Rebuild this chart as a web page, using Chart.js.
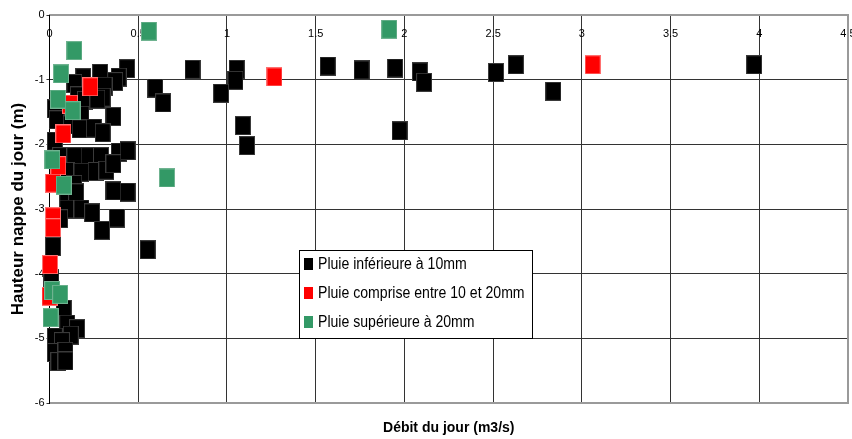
<!DOCTYPE html>
<html>
<head>
<meta charset="utf-8">
<script src="https://cdn.jsdelivr.net/npm/chart.js@4"></script>
<style>
  html, body { margin: 0; padding: 0; background: #ffffff; }
  canvas { display: block; }
</style>
</head>
<body>
<canvas id="chart" width="852" height="439"></canvas>
<script>
// Débit du jour (m3/s) against hauteur de nappe du jour (m), grouped by daily rainfall
const seriesNames = [
  'Pluie inférieure à 10mm',
  'Pluie comprise entre 10 et 20mm',
  'Pluie supérieure à 20mm'
];

// Pluie inférieure à 10mm
const lowRainDebit = [
  0.806, 1.055, 1.048, 0.967, 1.09, 1.113, 1.568, 1.759, 1.948, 2.087, 2.111, 1.973,
  2.516, 2.628, 2.839, 3.971, 0.596, 0.64, 0.553,
  0.437, 0.39, 0.37, 0.285, 0.31, 0.30, 0.19, 0.14, 0.16, 0.20, 0.27, 0.36, 0.18,
  0.03, 0.04, 0.12, 0.17, 0.25, 0.30, 0.03,
  0.06, 0.14, 0.22, 0.29, 0.39, 0.44, 0.10, 0.18, 0.26, 0.32, 0.36, 0.14, 0.10,
  0.15, 0.36, 0.44, 0.10, 0.18, 0.24, 0.06, 0.38, 0.296, 0.02, 0.01,
  0.08, 0.10, 0.155, 0.12, 0.03, 0.07, 0.03, 0.09, 0.05, 0.09
];
const lowRainNappe = [
  -0.84, -0.84, -1.01, -1.21, -1.71, -2.02, -0.79, -0.85, -0.82, -0.88, -1.04, -1.79,
  -0.89, -0.77, -1.18, -0.77, -1.13, -1.36, -3.63,
  -0.83, -0.96, -1.03, -0.90, -1.10, -1.27, -0.97, -1.06, -1.25, -1.32, -1.30, -1.57, -1.55,
  -1.45, -1.62, -1.70, -1.76, -1.75, -1.82, -1.95,
  -2.19, -2.19, -2.19, -2.19, -2.12, -2.10, -2.42, -2.43, -2.42, -2.40, -2.30, -2.62, -2.80,
  -2.75, -2.72, -2.74, -3.00, -3.00, -3.06, -3.15, -3.14, -3.33, -3.58, -4.08,
  -4.55, -4.78, -4.85, -4.95, -4.98, -5.05, -5.22, -5.20, -5.36, -5.35
];

// Pluie comprise entre 10 et 20mm
const midRainDebit = [1.268, 3.061, 0.23, 0.115, 0.078, 0.05, 0.02, 0.02, 0.02, 0.003, 0.0];
const midRainNappe = [-0.957, -0.77, -1.11, -1.38, -1.84, -2.33, -2.60, -3.12, -3.29, -3.86, -4.35];

// Pluie supérieure à 20mm
const highRainDebit = [0.56, 1.915, 0.14, 0.065, 0.048, 0.13, 0.016, 0.08, 0.662, 0.015, 0.06, 0.006];
const highRainNappe = [-0.25, -0.22, -0.55, -0.91, -1.30, -1.48, -2.24, -2.63, -2.52, -4.26, -4.32, -4.68];

const seriesColors = ['#000000', '#ff0000', '#339966'];
const seriesEdges = ['#3a3a3a', '#ff7070', '#6fb390'];

const xTicks = { min: 0, max: 4.5, step: 0.5 };
const yTicks = { min: -6, max: 0, step: 1 };

Chart.defaults.font.family = "'Liberation Sans', Arial, sans-serif";
Chart.defaults.color = '#000000';

function toPoints(xs, ys) {
  return xs.map((x, i) => ({ x: x, y: ys[i] }));
}

// Tall rectangular marker, as drawn by the spreadsheet
function makeMarker(fill, edge) {
  const c = document.createElement('canvas');
  c.width = 16;
  c.height = 19;
  const g = c.getContext('2d');
  g.fillStyle = edge;
  g.fillRect(0, 0, 16, 19);
  g.fillStyle = fill;
  g.fillRect(1, 1, 14, 17);
  return c;
}

const markers = seriesColors.map((c, i) => makeMarker(c, seriesEdges[i]));

// Boxed legend placed inside the plot area
const boxedLegend = {
  id: 'boxedLegend',
  afterDatasetsDraw(chart) {
    const ctx = chart.ctx;
    const bx = 299.5, by = 250.5, bw = 233, bh = 88;
    ctx.save();
    ctx.fillStyle = '#ffffff';
    ctx.fillRect(bx, by, bw, bh);
    ctx.strokeStyle = '#000000';
    ctx.lineWidth = 1;
    ctx.strokeRect(bx, by, bw, bh);
    const rows = [264, 293, 322];
    seriesNames.forEach((name, i) => {
      const cy = rows[i];
      ctx.fillStyle = seriesColors[i];
      ctx.fillRect(304, cy - 6, 9, 12);
      ctx.save();
      ctx.translate(318, cy);
      ctx.scale(0.88, 1);
      ctx.fillStyle = '#000000';
      ctx.font = "16px 'Liberation Sans', Arial, sans-serif";
      ctx.textBaseline = 'middle';
      ctx.textAlign = 'left';
      ctx.fillText(name, 0, 1);
      ctx.restore();
    });
    ctx.restore();
  }
};

const gridColor = '#333333';
const frameColor = '#9a9a9a';

function noPadding(s) {
  s.paddingLeft = 0;
  s.paddingRight = 0;
}

new Chart(document.getElementById('chart'), {
  type: 'scatter',
  data: {
    datasets: [
      { label: seriesNames[0], data: toPoints(lowRainDebit, lowRainNappe), pointStyle: markers[0], pointRadius: 9, order: 3, clip: false },
      { label: seriesNames[1], data: toPoints(midRainDebit, midRainNappe), pointStyle: markers[1], pointRadius: 9, order: 2, clip: false },
      { label: seriesNames[2], data: toPoints(highRainDebit, highRainNappe), pointStyle: markers[2], pointRadius: 9, order: 1, clip: false }
    ]
  },
  options: {
    responsive: false,
    animation: false,
    events: [],
    layout: { padding: 0, autoPadding: false },
    plugins: {
      legend: { display: false },
      tooltip: { enabled: false }
    },
    scales: {
      x: {
        type: 'linear',
        position: 'top',
        min: xTicks.min,
        max: xTicks.max,
        ticks: {
          stepSize: xTicks.step,
          mirror: true,
          padding: 12,
          maxRotation: 0,
          autoSkip: false,
          font: { size: 11 },
          color: '#000000',
          callback: (v) => String(Math.round(v * 10) / 10)
        },
        grid: {
          drawTicks: false,
          lineWidth: 1,
          color: (c) => (c.tick && c.tick.value === xTicks.max) ? 'rgba(0,0,0,0)' : gridColor
        },
        border: { color: frameColor, width: 2 },
        afterFit(s) { s.height = 15; noPadding(s); }
      },
      xTitle: {
        type: 'linear',
        position: 'bottom',
        min: xTicks.min,
        max: xTicks.max,
        ticks: { display: false },
        grid: { display: false },
        border: { color: frameColor, width: 2 },
        title: {
          display: true,
          text: 'Débit du jour (m3/s)',
          color: '#000000',
          font: { size: 14, weight: 'bold' },
          padding: { top: 0, bottom: 2 }
        },
        afterFit(s) { s.height = 36; noPadding(s); }
      },
      y: {
        type: 'linear',
        position: 'left',
        min: yTicks.min,
        max: yTicks.max,
        ticks: {
          stepSize: yTicks.step,
          padding: 2,
          font: { size: 11 },
          color: '#000000'
        },
        grid: {
          tickLength: 3,
          lineWidth: 1,
          tickColor: gridColor,
          color: (c) => (c.tick && (c.tick.value === yTicks.max || c.tick.value === yTicks.min)) ? 'rgba(0,0,0,0)' : gridColor
        },
        border: { color: '#000000', width: 1 },
        title: {
          display: true,
          text: 'Hauteur nappe du jour (m)',
          color: '#000000',
          font: { size: 17, weight: 'bold' },
          padding: { top: 8, bottom: 0 }
        },
        afterFit(s) { s.width = 49.5; s.paddingTop = 0; s.paddingBottom = 0; }
      },
      yFrame: {
        type: 'linear',
        position: 'right',
        min: yTicks.min,
        max: yTicks.max,
        ticks: { display: false },
        grid: { display: false },
        border: { color: frameColor, width: 2 },
        afterFit(s) { s.width = 4; s.paddingTop = 0; s.paddingBottom = 0; }
      }
    }
  },
  plugins: [boxedLegend]
});
</script>
</body>
</html>
